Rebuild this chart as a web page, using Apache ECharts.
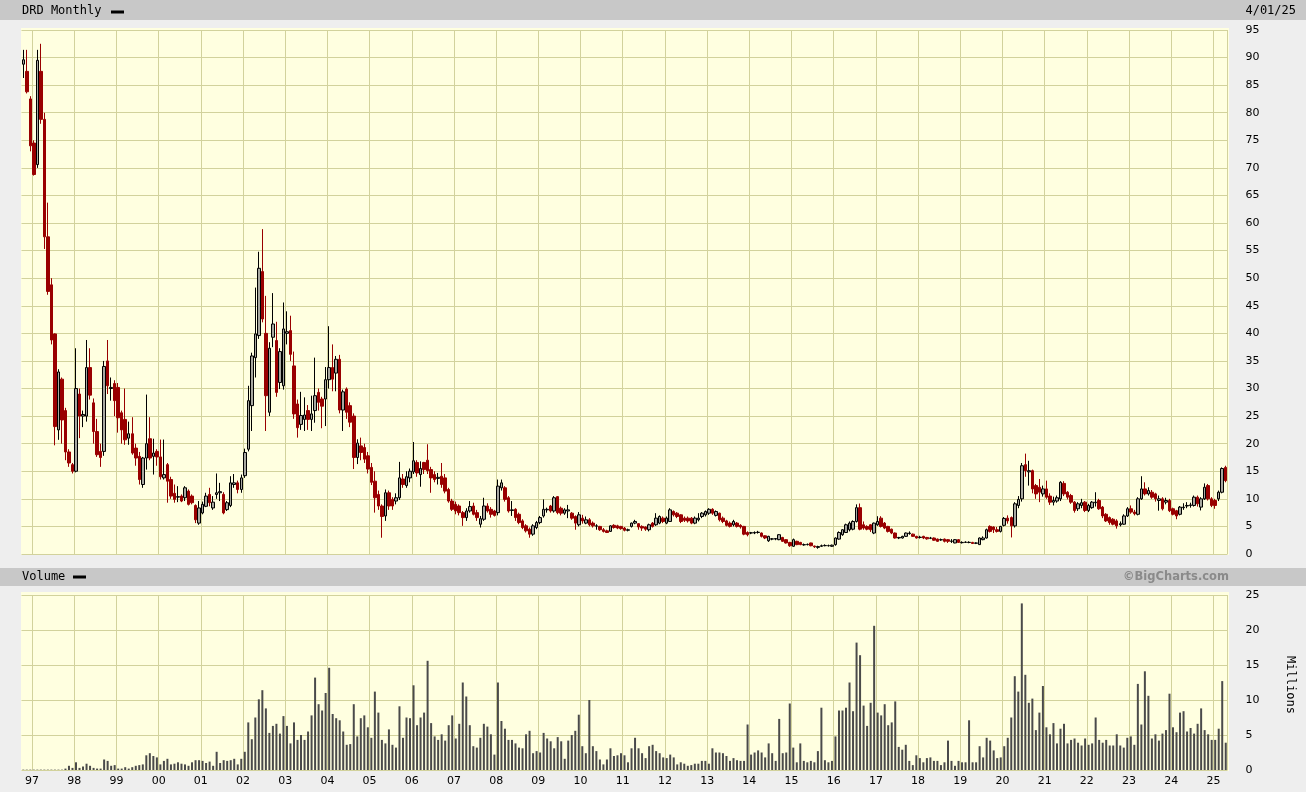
<!DOCTYPE html>
<html><head><meta charset="utf-8">
<script src="https://cdn.jsdelivr.net/npm/echarts@6/dist/echarts.min.js"></script>
<style>html,body{margin:0;padding:0;background:#eeeeee;}#c{width:1306px;height:792px;}</style>
</head><body><div id="c"></div><script>
// Monthly OHLC of DRD, Oct 1996 .. Apr 2025 (one line per year)
const open = [
88.8,87.5,82.5,
74.5,70.6,87.5,78.8,57.5,48.8,39.9,22.5,31.7,26.0,18.5,16.2,
15.0,29.0,25.0,25.0,33.8,27.4,22.2,18.6,18.6,35.0,30.0,30.9,
30.2,25.6,24.4,21.0,21.8,19.2,17.7,12.6,17.4,20.9,17.7,18.6,
17.6,13.8,16.2,13.5,11.0,10.3,10.5,10.2,11.4,10.5,8.8,5.6,
7.45,8.65,10.8,8.35,10.8,11.1,10.8,8.05,8.8,12.6,12.9,11.7,
14.2,19.0,26.9,35.6,39.6,51.2,40.0,25.7,39.3,38.7,31.1,30.5,
40.0,40.5,34.1,27.2,23.5,24.4,26.0,24.4,26.0,29.3,28.1,28.1,
31.6,33.8,32.8,35.3,26.1,29.9,26.9,25.0,17.5,19.6,19.3,17.8,
15.7,13.2,10.8,8.7,6.9,11.1,9.9,9.6,10.2,13.6,12.4,13.8,
14.9,16.6,14.4,16.6,17.0,15.3,14.4,13.7,14.1,13.8,11.7,9.6,
9.0,8.7,7.5,6.6,7.8,8.7,7.5,5.4,6.3,8.7,8.1,7.8,
7.5,12.0,12.0,10.2,7.9,8.1,7.2,6.0,5.1,4.5,3.6,4.8,
5.7,6.9,8.0,8.7,7.8,10.4,8.3,7.4,7.8,7.4,6.8,5.3,
6.5,5.6,6.2,5.6,5.05,5.0,4.4,4.2,4.1,5.2,5.1,5.0,
4.7,4.3,5.0,5.6,5.5,5.0,4.9,4.4,5.6,5.3,5.6,6.5,
5.6,5.9,7.7,7.4,7.1,6.5,6.5,6.5,5.6,6.2,6.8,7.1,
7.4,8.1,7.0,7.4,6.5,6.0,5.6,5.3,5.6,5.2,5.0,3.9,
3.8,3.8,3.9,3.8,3.3,2.4,2.7,2.7,2.6,3.0,2.6,2.1,
1.4,2.3,2.1,1.65,1.7,2.0,1.45,1.2,1.4,1.5,1.5,1.4,
1.7,2.7,3.5,3.9,4.4,4.5,5.9,8.4,5.3,5.0,5.3,3.8,
5.3,6.5,5.6,5.0,4.5,3.8,2.9,2.9,3.2,3.7,3.6,3.2,
3.0,3.2,3.0,2.85,2.9,2.7,2.55,2.7,2.6,2.3,2.0,2.6,
2.05,2.1,2.08,2.1,1.95,1.7,2.6,2.9,5.0,4.9,4.4,4.1,
5.2,6.5,6.6,5.1,8.8,10.0,16.2,14.9,15.1,12.4,12.1,10.9,
11.8,10.5,9.4,9.6,10.0,12.8,11.2,10.6,9.4,8.2,8.8,9.4,
7.9,8.4,9.3,9.7,8.5,7.2,6.6,6.3,6.0,5.3,5.4,6.9,
8.2,7.6,7.2,10.0,11.8,10.9,11.2,10.9,9.7,10.0,9.4,9.7,
8.2,7.85,7.2,8.4,8.7,8.8,8.8,10.3,8.5,10.0,12.4,10.0,
9.7,10.0,11.2,15.7];
const high = [
91.4,91.4,83.0,
75.0,91.4,92.5,80.0,63.7,50.0,40.0,33.5,32.0,26.5,19.0,16.5,
37.3,30.0,26.0,38.8,37.3,28.2,24.5,20.0,35.0,38.8,32.0,31.5,
31.0,26.0,30.0,24.0,24.8,20.0,18.5,17.6,28.9,24.8,20.9,19.0,
20.75,20.75,16.5,14.0,12.6,12.3,10.8,12.3,11.7,10.8,9.0,9.6,
9.5,11.1,12.0,10.5,14.6,12.9,11.2,9.6,14.1,14.5,13.3,14.4,
19.1,30.5,36.5,48.3,54.8,58.9,46.8,38.4,47.3,42.1,37.3,45.6,
44.0,43.2,36.7,28.0,29.4,28.4,27.0,28.7,35.6,30.0,28.5,33.9,
41.3,38.0,35.9,36.1,29.8,30.2,27.5,25.5,20.8,21.1,20.0,18.5,
16.5,15.0,11.5,9.0,11.7,11.5,10.3,11.0,16.7,14.5,15.0,15.5,
20.3,17.0,16.8,16.7,19.9,15.8,15.0,14.7,16.5,14.5,12.0,10.0,
9.5,9.0,7.8,8.3,9.6,9.3,8.0,6.9,10.2,9.2,8.5,8.0,
13.5,13.5,12.3,10.5,9.6,8.3,7.5,6.3,5.4,4.8,5.4,6.0,
6.9,9.9,8.4,8.9,10.5,10.5,8.6,8.3,8.9,7.6,7.0,7.6,
7.1,6.8,6.5,5.9,5.4,5.1,4.7,4.4,5.2,5.4,5.3,5.1,
4.9,4.6,5.7,6.2,5.6,5.2,5.0,5.5,5.8,7.4,7.0,6.8,
6.8,8.3,7.9,7.6,7.2,6.8,6.8,6.7,6.8,7.4,7.6,7.9,
8.3,8.3,7.9,7.5,6.8,6.2,5.9,6.2,5.8,5.4,5.1,4.1,
4.0,4.1,4.2,3.9,3.4,3.3,2.9,2.9,3.6,3.1,2.7,2.2,
2.8,2.4,2.2,1.9,1.9,2.05,1.5,1.5,1.7,1.75,1.7,1.7,
3.0,4.1,4.5,5.5,5.9,6.1,9.0,9.15,5.9,5.2,5.4,5.7,
6.85,6.85,5.8,5.1,4.6,3.9,3.1,3.3,3.9,4.1,3.7,3.3,
3.3,3.3,3.1,3.1,3.0,2.8,2.8,2.8,2.7,2.7,2.7,2.7,
2.3,2.3,2.3,2.2,2.1,3.0,3.2,4.6,5.2,5.0,4.9,5.1,
6.7,7.0,6.8,9.4,10.5,16.5,18.2,16.9,15.3,12.7,13.6,12.4,
13.3,11.0,10.4,10.6,13.2,13.2,11.4,10.9,9.6,9.4,10.0,9.6,
9.1,9.6,11.2,10.0,8.7,7.4,6.8,6.5,6.3,5.9,7.2,8.5,
8.8,8.0,10.3,14.1,13.0,12.1,11.6,11.1,10.6,10.3,10.2,10.0,
8.4,8.0,8.7,9.2,9.4,9.3,10.6,10.6,10.3,12.8,12.7,10.3,
10.0,11.5,15.7,16.0];
const low = [
86.3,83.5,73.0,
68.6,70.0,78.0,55.3,47.0,38.0,19.7,20.7,20.0,17.0,15.8,14.6,
14.8,21.0,23.0,24.0,28.0,20.0,17.6,15.8,17.8,29.0,27.8,25.0,
22.0,20.0,19.8,19.8,18.0,16.0,12.6,12.0,15.3,17.0,14.4,16.0,
13.5,13.5,9.3,10.0,9.3,9.4,9.4,9.6,8.8,9.0,5.6,5.3,
7.2,8.5,8.65,8.0,10.0,9.6,7.2,7.8,8.5,12.0,11.0,11.1,
13.8,18.6,22.3,32.0,39.0,42.0,22.3,25.0,37.5,28.5,29.9,29.8,
38.0,35.0,24.5,21.1,22.5,22.3,22.5,22.3,23.8,26.0,22.8,23.2,
30.0,29.5,29.5,25.5,22.3,24.5,23.0,15.4,16.3,17.0,16.5,14.6,
12.5,7.5,8.0,2.95,6.0,8.0,8.0,9.0,9.8,12.0,12.0,13.0,
14.5,14.0,12.2,14.5,14.5,11.1,13.0,12.6,12.0,11.0,9.3,7.8,
7.2,7.0,5.1,6.0,7.5,7.0,6.0,4.8,6.0,7.5,6.6,6.8,
7.0,11.5,9.5,7.5,6.9,6.0,5.4,4.5,3.9,2.95,3.3,4.5,
5.4,6.6,7.5,7.5,7.5,7.2,7.0,7.1,6.5,6.2,4.4,5.0,
5.5,5.4,5.0,4.8,4.4,4.2,3.9,3.8,4.0,4.6,4.5,4.4,
4.1,4.1,4.8,5.4,4.4,4.2,4.2,4.1,4.8,5.1,5.4,5.6,
5.4,5.8,6.8,6.5,5.6,5.8,5.7,5.4,5.4,5.9,6.5,6.8,
7.1,7.1,6.8,5.9,5.6,5.0,4.8,5.0,4.8,4.6,3.4,3.2,
3.6,3.6,3.7,3.0,2.7,2.2,2.5,2.5,2.5,2.2,1.9,1.3,
1.3,1.6,1.6,1.5,1.55,1.4,1.1,0.95,1.3,1.4,1.35,1.3,
1.5,2.6,3.3,3.8,4.1,4.3,5.7,4.3,4.4,4.3,4.0,3.6,
5.1,4.8,4.5,3.9,3.6,2.8,2.7,2.8,3.1,3.5,3.1,2.8,
2.8,2.7,2.6,2.7,2.4,2.2,2.4,2.1,2.0,2.0,1.95,2.0,
1.9,2.0,1.95,1.85,1.8,1.65,2.5,2.8,3.9,3.8,3.9,3.9,
5.0,5.5,3.0,4.8,8.3,9.5,14.0,12.4,11.0,10.0,9.4,10.4,
10.0,8.9,8.8,9.3,9.6,10.5,9.9,9.1,7.5,7.8,8.3,7.6,
7.6,8.2,8.6,8.0,6.5,5.8,5.3,5.2,4.6,5.0,5.3,6.7,
7.3,7.0,7.0,9.8,10.6,10.6,10.0,9.5,7.85,7.9,9.0,7.6,
7.0,6.3,7.0,8.0,8.3,8.4,8.6,8.6,7.9,9.8,9.7,8.5,
8.2,9.6,11.0,13.0];
const close = [
89.6,83.8,74.0,
68.8,89.5,78.8,57.5,47.6,38.8,23.1,33.0,24.3,18.5,16.5,15.0,
30.0,25.0,25.3,33.8,28.8,22.2,18.0,17.5,34.0,30.5,30.2,27.8,
24.7,22.5,20.7,21.8,18.3,17.4,13.5,17.4,20.0,17.4,18.3,17.6,
14.0,14.4,13.2,10.5,9.9,10.4,9.6,12.0,9.0,9.3,6.2,8.35,
9.0,10.5,9.3,9.4,11.1,11.3,7.45,9.3,12.9,12.9,11.7,13.8,
18.4,27.8,35.9,39.9,51.8,42.6,28.7,37.3,41.7,29.3,36.7,40.8,
40.3,36.2,25.4,22.9,25.1,25.2,24.4,25.4,28.7,27.5,26.8,31.6,
33.8,31.7,35.3,26.1,29.4,25.7,23.9,17.5,20.1,18.4,17.2,15.4,
13.0,10.2,8.7,6.8,11.1,8.7,8.7,10.2,13.8,12.6,14.0,15.0,
16.9,14.7,15.5,15.3,15.1,13.8,13.5,13.9,12.6,11.4,9.6,8.1,
7.8,7.5,6.6,7.8,8.6,7.2,6.6,6.4,8.7,7.8,7.2,7.0,
12.3,12.9,9.9,7.8,8.0,6.6,5.7,4.8,4.2,3.6,5.1,5.7,
6.6,8.1,8.1,7.8,10.2,7.5,7.4,8.0,8.0,6.5,5.6,7.1,
6.0,6.2,5.3,5.1,5.1,4.4,4.1,3.9,5.1,4.8,4.7,4.6,
4.3,4.4,5.6,5.9,4.9,4.7,4.5,5.3,5.0,6.5,6.8,5.9,
6.5,8.0,7.1,6.8,5.9,6.1,6.0,5.6,6.5,6.5,7.4,7.7,
8.1,7.4,7.7,6.2,5.9,5.2,5.0,5.9,5.0,4.9,3.6,3.5,
3.85,3.9,3.95,3.2,2.9,3.2,2.75,2.8,3.5,2.3,2.0,1.5,
2.6,1.7,1.7,1.7,1.75,1.5,1.3,1.35,1.5,1.55,1.52,1.6,
2.9,3.9,4.4,5.3,5.6,5.9,8.4,4.5,4.7,4.5,4.4,5.6,
5.9,5.0,4.7,4.1,3.8,2.9,3.0,3.2,3.8,3.8,3.2,2.9,
3.05,2.9,2.75,2.9,2.5,2.3,2.6,2.3,2.3,2.35,2.6,2.1,
2.1,2.15,2.12,1.9,2.0,2.9,2.9,4.4,4.1,4.4,4.1,5.0,
6.45,6.0,5.1,9.1,9.9,16.0,15.1,15.1,11.8,10.9,11.2,11.8,
10.3,9.4,9.7,10.2,13.0,10.9,10.3,9.4,7.9,9.1,9.3,7.9,
8.8,9.4,9.4,8.2,6.9,6.0,5.7,5.4,5.1,5.5,6.9,8.2,
7.6,7.3,10.0,11.8,10.9,11.5,10.3,10.0,10.0,8.2,9.7,7.85,
7.2,6.9,8.5,8.5,8.8,8.9,10.3,9.1,10.0,12.1,10.0,8.8,
8.8,11.2,15.5,13.3];
// Monthly volume, millions
const volume = [
0.05,0.05,0.05,
0.05,0.05,0.05,0.05,0.05,0.05,0.05,0.05,0.05,0.2,0.6,0.3,
1.1,0.3,0.5,0.9,0.6,0.3,0.2,0.2,1.5,1.3,0.6,0.7,
0.2,0.2,0.4,0.2,0.4,0.6,0.7,0.8,2.1,2.4,2.0,1.8,
0.8,1.3,1.6,0.8,0.9,1.1,0.9,0.8,0.6,1.1,1.4,1.4,
1.3,1.0,1.2,0.6,2.6,1.0,1.4,1.3,1.4,1.6,0.8,1.6,
2.6,6.8,4.4,7.5,10.1,11.4,8.8,5.3,6.3,6.6,5.2,7.7,
6.3,3.8,6.8,4.3,5.0,4.3,5.5,7.8,13.2,9.4,8.5,11.0,
14.6,8.0,7.4,7.1,5.5,3.6,3.7,9.4,4.8,7.4,7.8,6.1,
4.6,11.2,8.2,4.3,3.8,5.8,3.6,3.2,9.1,4.6,7.5,7.4,
12.1,6.4,7.5,8.2,15.6,6.7,4.8,4.3,5.1,4.2,6.4,7.8,
4.5,6.6,12.5,10.5,6.4,3.4,3.2,4.6,6.6,6.2,5.1,2.2,
12.5,7.0,5.9,4.3,4.3,3.8,3.2,3.1,5.1,5.6,2.4,2.7,
2.5,5.3,4.5,4.1,3.1,4.7,4.1,1.6,4.2,5.0,5.6,7.9,
3.4,2.4,10.0,3.4,2.7,1.5,0.8,1.5,3.1,2.0,2.1,2.4,
2.1,1.1,3.1,4.6,3.1,2.4,1.7,3.4,3.6,2.7,2.4,1.8,
1.7,2.2,1.8,0.8,1.1,0.9,0.6,0.7,0.9,0.9,1.3,1.3,
0.9,3.1,2.5,2.5,2.4,2.0,1.3,1.7,1.4,1.3,1.3,6.5,
2.2,2.5,2.8,2.5,1.8,3.8,2.4,1.3,7.3,2.4,2.5,9.5,
3.2,1.1,3.8,1.3,1.1,1.3,1.1,2.7,8.9,1.4,1.1,1.3,
4.8,8.5,8.5,8.9,12.5,8.4,18.2,16.4,9.2,6.3,9.6,20.6,
8.2,7.8,9.4,6.4,6.8,9.8,3.3,2.9,3.6,1.3,0.7,2.1,
1.7,1.1,1.7,1.8,1.3,1.3,0.7,1.1,4.2,1.3,0.6,1.3,
1.1,1.1,7.1,1.1,1.1,3.4,1.8,4.6,4.2,2.8,1.7,1.8,
3.4,4.6,7.5,13.4,11.2,23.8,13.6,9.6,10.2,5.7,8.2,12.0,
6.1,5.1,6.7,3.8,5.9,6.6,3.8,4.3,4.5,3.9,3.5,4.5,
3.6,3.8,7.5,4.3,3.9,4.3,3.5,3.5,5.1,3.5,3.2,4.6,
4.8,3.6,12.3,6.5,14.1,10.6,4.5,5.1,4.2,5.2,5.7,10.9,
6.1,5.4,8.2,8.4,5.5,6.0,5.2,6.6,8.8,5.7,5.1,4.3,
4.3,5.9,12.7,3.9];
// Categories: months from Oct 1996
const firstYear = 1996, firstMonth = 10;
const months = [];
for (let i = 0; i < close.length; i++) {
  const m0 = firstMonth - 1 + i;
  months.push((firstYear + Math.floor(m0 / 12)) + '-' + String(m0 % 12 + 1).padStart(2, '0'));
}
const candles = months.map((_, i) => [open[i], close[i], low[i], high[i]]);
const isJan = (idx, v) => v.slice(5) === '01';

const GRIDC = '#d2d29c';
const PLOTBG = '#ffffe0';
const LABEL = {color: '#000', fontFamily: 'DejaVu Sans', fontSize: 11};
const MONO = 'DejaVu Sans Mono';

const chart = echarts.init(document.getElementById('c'), null, {renderer: 'canvas'});
chart.setOption({
  animation: false,
  backgroundColor: '#eeeeee',
  grid: [
    {left: 21.5, width: 1206, top: 30, height: 524, outerBoundsMode: 'none'},
    {left: 21.5, width: 1206, top: 595, height: 175, outerBoundsMode: 'none'}
  ],
  xAxis: [
    {type: 'category', gridIndex: 0, data: months, boundaryGap: true,
     axisLine: {show: false}, axisTick: {show: false}, axisLabel: {show: false},
     splitLine: {show: true, interval: isJan, lineStyle: {color: GRIDC, width: 1}}},
    {type: 'category', gridIndex: 1, data: months, boundaryGap: true,
     axisLine: {show: false}, axisTick: {show: false},
     axisLabel: Object.assign({show: true, interval: isJan, margin: 6, padding: [0, 3.5, 0, 0],
       formatter: v => v.slice(2, 4)}, LABEL),
     splitLine: {show: true, interval: isJan, lineStyle: {color: GRIDC, width: 1}}}
  ],
  yAxis: [
    {type: 'value', gridIndex: 0, position: 'right', min: 0, max: 95, interval: 5,
     axisLine: {show: false}, axisTick: {show: false},
     axisLabel: Object.assign({margin: 18}, LABEL),
     splitLine: {show: true, lineStyle: {color: GRIDC, width: 1}}},
    {type: 'value', gridIndex: 1, position: 'right', min: 0, max: 25, interval: 5,
     axisLine: {show: false}, axisTick: {show: false},
     axisLabel: Object.assign({margin: 18}, LABEL),
     splitLine: {show: true, lineStyle: {color: GRIDC, width: 1}}}
  ],
  series: [
    {type: 'candlestick', xAxisIndex: 0, yAxisIndex: 0, data: candles, barWidth: 3,
     itemStyle: {color: '#a8a8a0', color0: '#990000', borderColor: '#000000', borderColor0: '#990000', borderWidth: 1}},
    {type: 'bar', xAxisIndex: 1, yAxisIndex: 1, data: volume, barWidth: 2,
     itemStyle: {color: '#4a4a4a'}}
  ],
  graphic: {elements: [
    {type: 'rect', z: -10, silent: true, shape: {x: 0, y: 0, width: 1306, height: 20}, style: {fill: '#c8c8c8'}},
    {type: 'rect', z: -10, silent: true, shape: {x: 21, y: 28, width: 1208, height: 527}, style: {fill: PLOTBG}},
    {type: 'rect', z: -10, silent: true, shape: {x: 0, y: 568, width: 1306, height: 18}, style: {fill: '#c8c8c8'}},
    {type: 'rect', z: -10, silent: true, shape: {x: 21, y: 592, width: 1208, height: 179}, style: {fill: PLOTBG}},
    {type: 'text', silent: true, x: 22, y: 11, style: {text: 'DRD Monthly', fill: '#000', font: '12px "' + MONO + '"', textVerticalAlign: 'middle'}},
    {type: 'rect', silent: true, shape: {x: 111, y: 10.5, width: 13, height: 3}, style: {fill: '#000'}},
    {type: 'text', silent: true, x: 1296, y: 11, style: {text: '4/01/25', fill: '#000', font: '12px "' + MONO + '"', textAlign: 'right', textVerticalAlign: 'middle'}},
    {type: 'text', silent: true, x: 22, y: 577, style: {text: 'Volume', fill: '#000', font: '12px "' + MONO + '"', textVerticalAlign: 'middle'}},
    {type: 'rect', silent: true, shape: {x: 73, y: 575.5, width: 13, height: 3}, style: {fill: '#000'}},
    {type: 'text', silent: true, x: 1229, y: 577, style: {text: '\u00a9BigCharts.com', fill: '#8a8a8a', font: 'bold 11.5px "DejaVu Sans"', textAlign: 'right', textVerticalAlign: 'middle'}},
    {type: 'text', silent: true, x: 1290, y: 685, rotation: -Math.PI / 2, style: {text: 'Millions', fill: '#000', font: '12px "' + MONO + '"', textAlign: 'center', textVerticalAlign: 'middle'}}
  ]}
});
</script></body></html>
